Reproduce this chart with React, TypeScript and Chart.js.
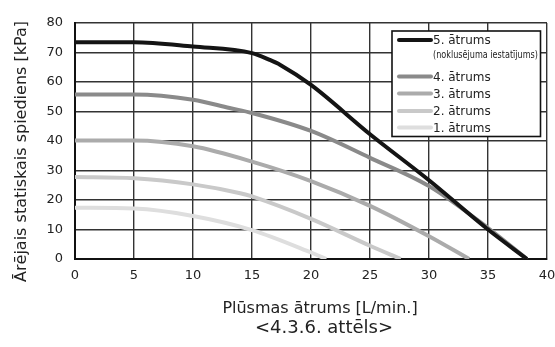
import React, { useEffect, useRef } from "react";
import { Chart, registerables } from "chart.js";

Chart.register(...registerables);

// Flow rate [L/min.] and pressure [kPa] per fan speed
const flow5 = [0, 5, 10, 15, 16.5, 17.4, 20, 25, 30, 35, 38.3];
const press5 = [73.5, 73.5, 72, 69.8, 67.5, 65.8, 59, 42.3, 26.7, 10, 0];

const flow4 = [0, 5, 10, 13.1, 15, 20, 25, 30, 35, 38.3];
const press4 = [55.8, 55.8, 54, 51.2, 49.5, 43.4, 34.3, 24.7, 10.5, 0];

const flow3 = [0, 5, 10, 15, 20, 25, 30, 33.4];
const press3 = [40.2, 40.2, 38.2, 33, 26.4, 18, 7.7, 0];

const flow2 = [0, 5, 10, 14, 15, 20, 25, 27.6];
const press2 = [27.8, 27.4, 25.3, 22.3, 21.2, 13.6, 4.5, 0];

const flow1 = [0, 5, 10, 15, 20, 21.3];
const press1 = [17.4, 17.1, 14.6, 9.8, 2.2, 0];

const seriesLabels = ["5. ātrums", "4. ātrums", "3. ātrums", "2. ātrums", "1. ātrums"];
const seriesColors = ["#141414", "#8a8a8a", "#ababab", "#c9c9c9", "#dedede"];
const defaultNote = "(noklusējuma iestatījums)";

const xMin = 0;
const xMax = 40;
const xStep = 5;
const yMin = 0;
const yMax = 80;
const yStep = 10;

const yAxisTitle = "Ārējais statiskais spiediens [kPa]";
const xAxisTitle = "Plūsmas ātrums [L/min.]";
const caption = "<4.3.6. attēls>";

const FONT = "'DejaVu Sans', Arial, sans-serif";
const TEXT = "#222";

function pts(xs: number[], ys: number[]) {
  return xs.map((x, i) => ({ x, y: ys[i] }));
}

const textPlugin = {
  id: "texts",
  afterDraw(chart: any) {
    const ctx = chart.ctx as CanvasRenderingContext2D;
    ctx.save();
    ctx.fillStyle = TEXT;
    // y title
    ctx.save();
    ctx.translate(26, 151.5);
    ctx.rotate(-Math.PI / 2);
    ctx.font = `16px ${FONT}`;
    ctx.textAlign = "center";
    ctx.textBaseline = "alphabetic";
    ctx.fillText(yAxisTitle, 0, 0);
    ctx.restore();
    // x title
    ctx.font = `16px ${FONT}`;
    ctx.textAlign = "center";
    ctx.textBaseline = "alphabetic";
    ctx.fillText(xAxisTitle, 320, 313);
    // caption
    ctx.font = `18px ${FONT}`;
    ctx.fillText(caption, 324, 333);

    // legend
    const bx = 392, by = 31, bw = 148.5, bh = 105.5;
    ctx.fillStyle = "#fff";
    ctx.fillRect(bx, by, bw, bh);
    ctx.strokeStyle = "#111";
    ctx.lineWidth = 1.6;
    ctx.strokeRect(bx, by, bw, bh);
    const rows = [40, 76.5, 93.5, 111, 127.5];
    const ds = chart.data.datasets;
    rows.forEach((ry: number, i: number) => {
      ctx.strokeStyle = ds[i].borderColor;
      ctx.lineWidth = 4;
      ctx.lineCap = "round";
      ctx.beginPath();
      ctx.moveTo(399, ry);
      ctx.lineTo(431, ry);
      ctx.stroke();
      ctx.fillStyle = TEXT;
      ctx.font = `12px ${FONT}`;
      ctx.textAlign = "left";
      ctx.textBaseline = "middle";
      ctx.fillText(ds[i].label, 433, ry + 1);
    });
    ctx.font = `10px 'Liberation Sans Narrow', 'DejaVu Sans Condensed', ${FONT}`;
    ctx.textAlign = "left";
    ctx.textBaseline = "middle";
    ctx.fillText(defaultNote, 433, 55.5, 105);
    ctx.restore();
  },
};

export default function App() {
  const ref = useRef<HTMLCanvasElement | null>(null);
  useEffect(() => {
    document.body.style.margin = "0";
    const canvas = ref.current;
    if (!canvas) return;
    const xs = [flow5, flow4, flow3, flow2, flow1];
    const ys = [press5, press4, press3, press2, press1];
    const chart = new Chart(canvas, {
      type: "line",
      data: {
        datasets: seriesLabels.map((label, i) => ({
          label,
          data: pts(xs[i], ys[i]),
          borderColor: seriesColors[i],
          backgroundColor: seriesColors[i],
          borderWidth: 4,
          pointRadius: 0,
          cubicInterpolationMode: "monotone" as const,
          fill: false,
        })),
      },
      options: {
        responsive: false,
        animation: false,
        devicePixelRatio: 1,
        layout: { padding: { top: 23, right: 8, left: 0, bottom: 0 } },
        plugins: {
          legend: { display: false },
          tooltip: { enabled: false },
          title: { display: false },
        },
        scales: {
          x: {
            type: "linear",
            min: xMin,
            max: xMax,
            ticks: {
              stepSize: xStep,
              padding: 9,
              color: TEXT,
              font: { family: FONT, size: 13 },
              maxRotation: 0,
            },
            grid: { color: "#333", lineWidth: 1.4, drawTicks: false },
            border: { display: true, color: "#111", width: 2 },
            afterFit: (s: any) => {
              s.height = 88;
              s.paddingRight = 0;
              s.paddingLeft = 0;
            },
          },
          y: {
            type: "linear",
            min: yMin,
            max: yMax,
            ticks: {
              stepSize: yStep,
              padding: 12,
              color: TEXT,
              font: { family: FONT, size: 13 },
            },
            grid: { color: "#333", lineWidth: 1.4, drawTicks: false },
            border: { display: true, color: "#111", width: 2 },
            afterFit: (s: any) => {
              s.width = 75;
              s.paddingTop = 0;
              s.paddingBottom = 0;
            },
          },
        },
      },
      plugins: [textPlugin],
    });
    return () => chart.destroy();
  }, []);
  return (
    <div style={{ width: 555, height: 347, background: "#fff" }}>
      <canvas ref={ref} width={555} height={347} style={{ display: "block" }} />
    </div>
  );
}
